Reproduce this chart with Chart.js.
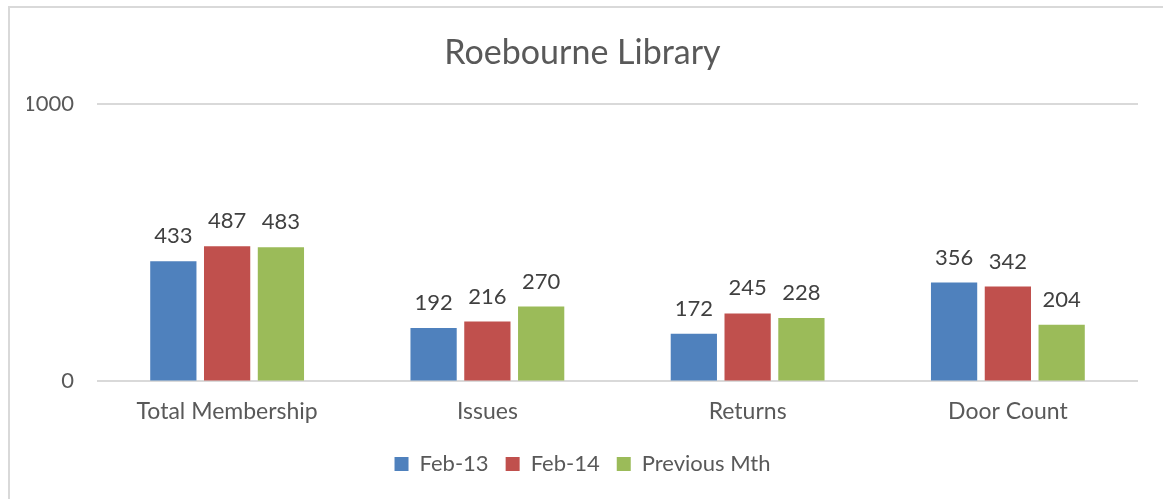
<!DOCTYPE html>
<html>
<head>
<meta charset="utf-8">
<script src="https://cdn.jsdelivr.net/npm/chart.js@4"></script>
<style>
  html, body { margin: 0; padding: 0; background: #fff; }
  #frame {
    position: absolute; left: 8px; top: 6px; width: 1170px; height: 510px;
    border-top: 2px solid #d9d9d9; border-left: 2px solid #d9d9d9;
  }
  #wrap { position: absolute; left: 0; top: 0; width: 1163px; height: 499px; }
</style>
</head>
<body>
<div id="frame"></div>
<div id="wrap"><canvas id="chart" width="1163" height="499"></canvas></div>
<script>
const categories = ["Total Membership", "Issues", "Returns", "Door Count"];
const feb13 = [433, 192, 172, 356];
const feb14 = [487, 216, 245, 342];
const prevMth = [483, 270, 228, 204];
const seriesNames = ["Feb-13", "Feb-14", "Previous Mth"];
const yTicks = [0, 1000];

const FONT = "Lato, 'Open Sans', sans-serif";

// draw the value above each bar
const valueLabels = {
  id: "valueLabels",
  afterDatasetsDraw(chart) {
    const ctx = chart.ctx;
    ctx.save();
    ctx.font = "22px " + FONT;
    ctx.fillStyle = "#404040";
    ctx.textAlign = "center";
    ctx.textBaseline = "bottom";
    chart.data.datasets.forEach((ds, i) => {
      chart.getDatasetMeta(i).data.forEach((bar, j) => {
        ctx.fillText(String(ds.data[j]), bar.x, bar.y - 14);
      });
    });
    ctx.restore();
  }
};

const ctx = document.getElementById("chart").getContext("2d");
new Chart(ctx, {
  type: "bar",
  data: {
    labels: categories,
    datasets: [
      { label: seriesNames[0], data: feb13, backgroundColor: "#4f81bd" },
      { label: seriesNames[1], data: feb14, backgroundColor: "#c0504d" },
      { label: seriesNames[2], data: prevMth, backgroundColor: "#9bbb59" }
    ]
  },
  options: {
    responsive: false,
    animation: false,
    layout: { padding: { left: 27, right: 25, top: 12, bottom: 14 } },
    datasets: { bar: { categoryPercentage: 0.62, barPercentage: 0.86 } },
    plugins: {
      title: {
        display: true,
        text: "Roebourne Library",
        color: "#595959",
        font: { family: FONT, size: 34, weight: "normal" },
        padding: { top: 21, bottom: 30 }
      },
      legend: {
        position: "bottom",
        labels: {
          color: "#595959",
          font: { family: FONT, size: 22 },
          boxWidth: 14,
          boxHeight: 14,
          padding: 17
        }
      },
      tooltip: { enabled: false }
    },
    scales: {
      x: {
        afterFit(axis) { axis.height += 3; },
        grid: { display: false },
        border: { display: false },
        ticks: { color: "#595959", font: { family: FONT, size: 23 }, padding: 8 }
      },
      y: {
        min: 0,
        max: 1000,
        afterBuildTicks(axis) { axis.ticks = yTicks.map(v => ({ value: v })); },
        afterFit(axis) { axis.width = 70; },
        grid: { color: "#d9d9d9", lineWidth: 2, drawTicks: false },
        border: { display: false },
        ticks: {
          color: "#595959",
          font: { family: FONT, size: 22 },
          padding: 23,
          callback: v => String(v)
        }
      }
    }
  },
  plugins: [valueLabels]
});
</script>
</body>
</html>
